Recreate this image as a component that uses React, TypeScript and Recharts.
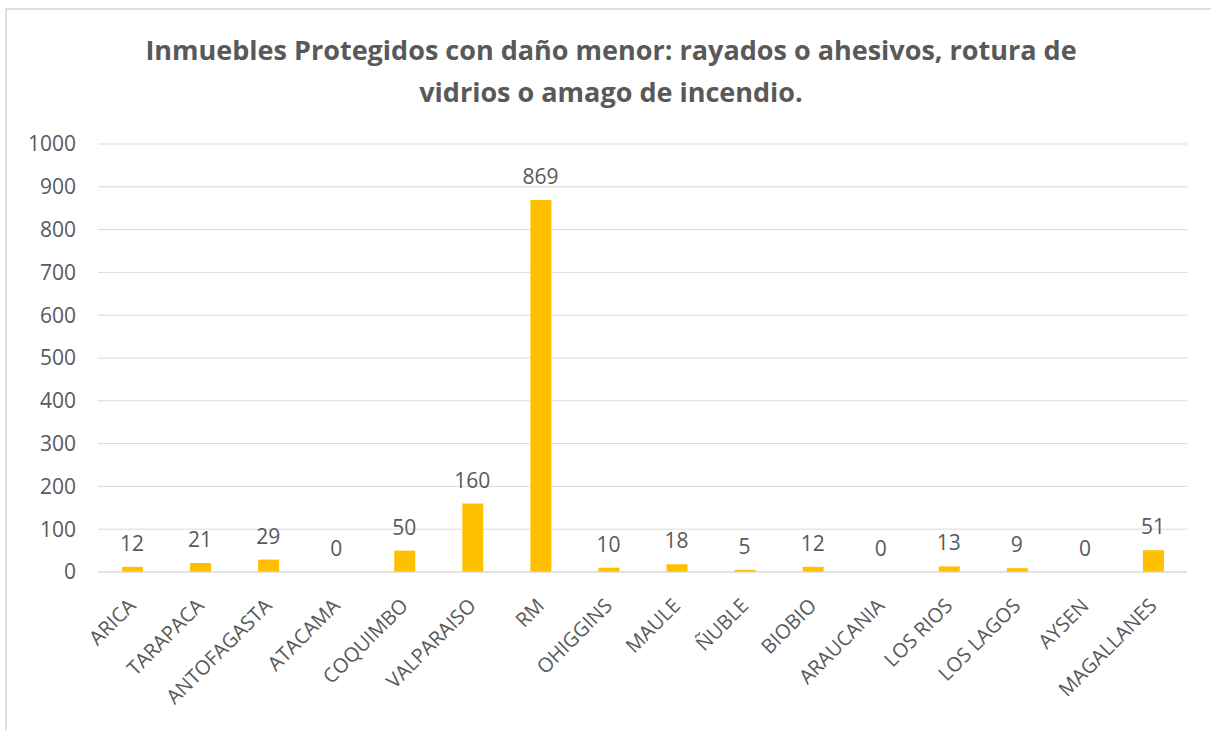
import {
  Bar,
  CartesianGrid,
  ComposedChart,
  LabelList,
  Line,
  XAxis,
  YAxis,
} from "recharts";

const regions = [
  "ARICA",
  "TARAPACA",
  "ANTOFAGASTA",
  "ATACAMA",
  "COQUIMBO",
  "VALPARAISO",
  "RM",
  "OHIGGINS",
  "MAULE",
  "ÑUBLE",
  "BIOBIO",
  "ARAUCANIA",
  "LOS RIOS",
  "LOS LAGOS",
  "AYSEN",
  "MAGALLANES",
];
const inmuebles = [12, 21, 29, 0, 50, 160, 869, 10, 18, 5, 12, 0, 13, 9, 0, 51];
const yTicks = [0, 100, 200, 300, 400, 500, 600, 700, 800, 900, 1000];

const titleLines = [
  "Inmuebles Protegidos con daño menor: rayados o ahesivos, rotura de",
  "vidrios o amago de incendio.",
];

const FONT = "'Open Sans', sans-serif";
const GREY = "#595959";

const rows = regions.map((region, i) => ({ region, value: inmuebles[i] }));

function RegionTick(props: any) {
  const { x, y, payload } = props;
  const ax = x + 5;
  const ay = y + 27;
  return (
    <text
      x={ax}
      y={ay}
      transform={`rotate(-45, ${ax}, ${ay})`}
      textAnchor="end"
      fill={GREY}
      fontSize={20}
      fontFamily={FONT}
    >
      {payload.value}
    </text>
  );
}

export default function App() {
  return (
    <div
      style={{
        position: "absolute",
        left: 0,
        top: 0,
        width: 1211,
        height: 730,
        background: "#fff",
        overflow: "hidden",
      }}
    >
      <div
        style={{
          position: "absolute",
          left: 5,
          top: 8,
          width: 1220,
          height: 740,
          borderLeft: "2px solid #dedede",
          borderTop: "2px solid #dedede",
        }}
      />
      <div
        style={{
          position: "absolute",
          left: 0,
          top: 29,
          width: 1222,
          textAlign: "center",
          fontFamily: FONT,
          fontWeight: 700,
          fontSize: 27,
          lineHeight: "42px",
          color: GREY,
        }}
      >
        {titleLines.map((t) => (
          <div key={t}>{t}</div>
        ))}
      </div>
      <div style={{ position: "absolute", left: 0, top: 0 }}>
        <ComposedChart
          width={1211}
          height={730}
          data={rows}
          margin={{ top: 144, right: 24, bottom: 0, left: 0 }}
          barCategoryGap={0}
        >
          <CartesianGrid vertical={false} stroke="#d9d9d9" strokeWidth={1} />
          <XAxis
            dataKey="region"
            interval={0}
            height={158}
            axisLine={{ stroke: "#d9d9d9" }}
            tickLine={false}
            tick={<RegionTick />}
          />
          <YAxis
            width={98}
            domain={[0, 1000]}
            ticks={yTicks}
            axisLine={false}
            tickLine={false}
            tickMargin={16}
            tick={{ fill: GREY, fontSize: 21, fontFamily: FONT }}
          />
          <Bar dataKey="value" fill="#FFC000" barSize={21} isAnimationActive={false} />
          <Line
            dataKey="value"
            stroke="none"
            dot={false}
            activeDot={false}
            legendType="none"
            isAnimationActive={false}
          >
            <LabelList
              dataKey="value"
              position="top"
              offset={16}
              fill={GREY}
              fontSize={21}
              fontFamily={FONT}
            />
          </Line>
        </ComposedChart>
      </div>
    </div>
  );
}
